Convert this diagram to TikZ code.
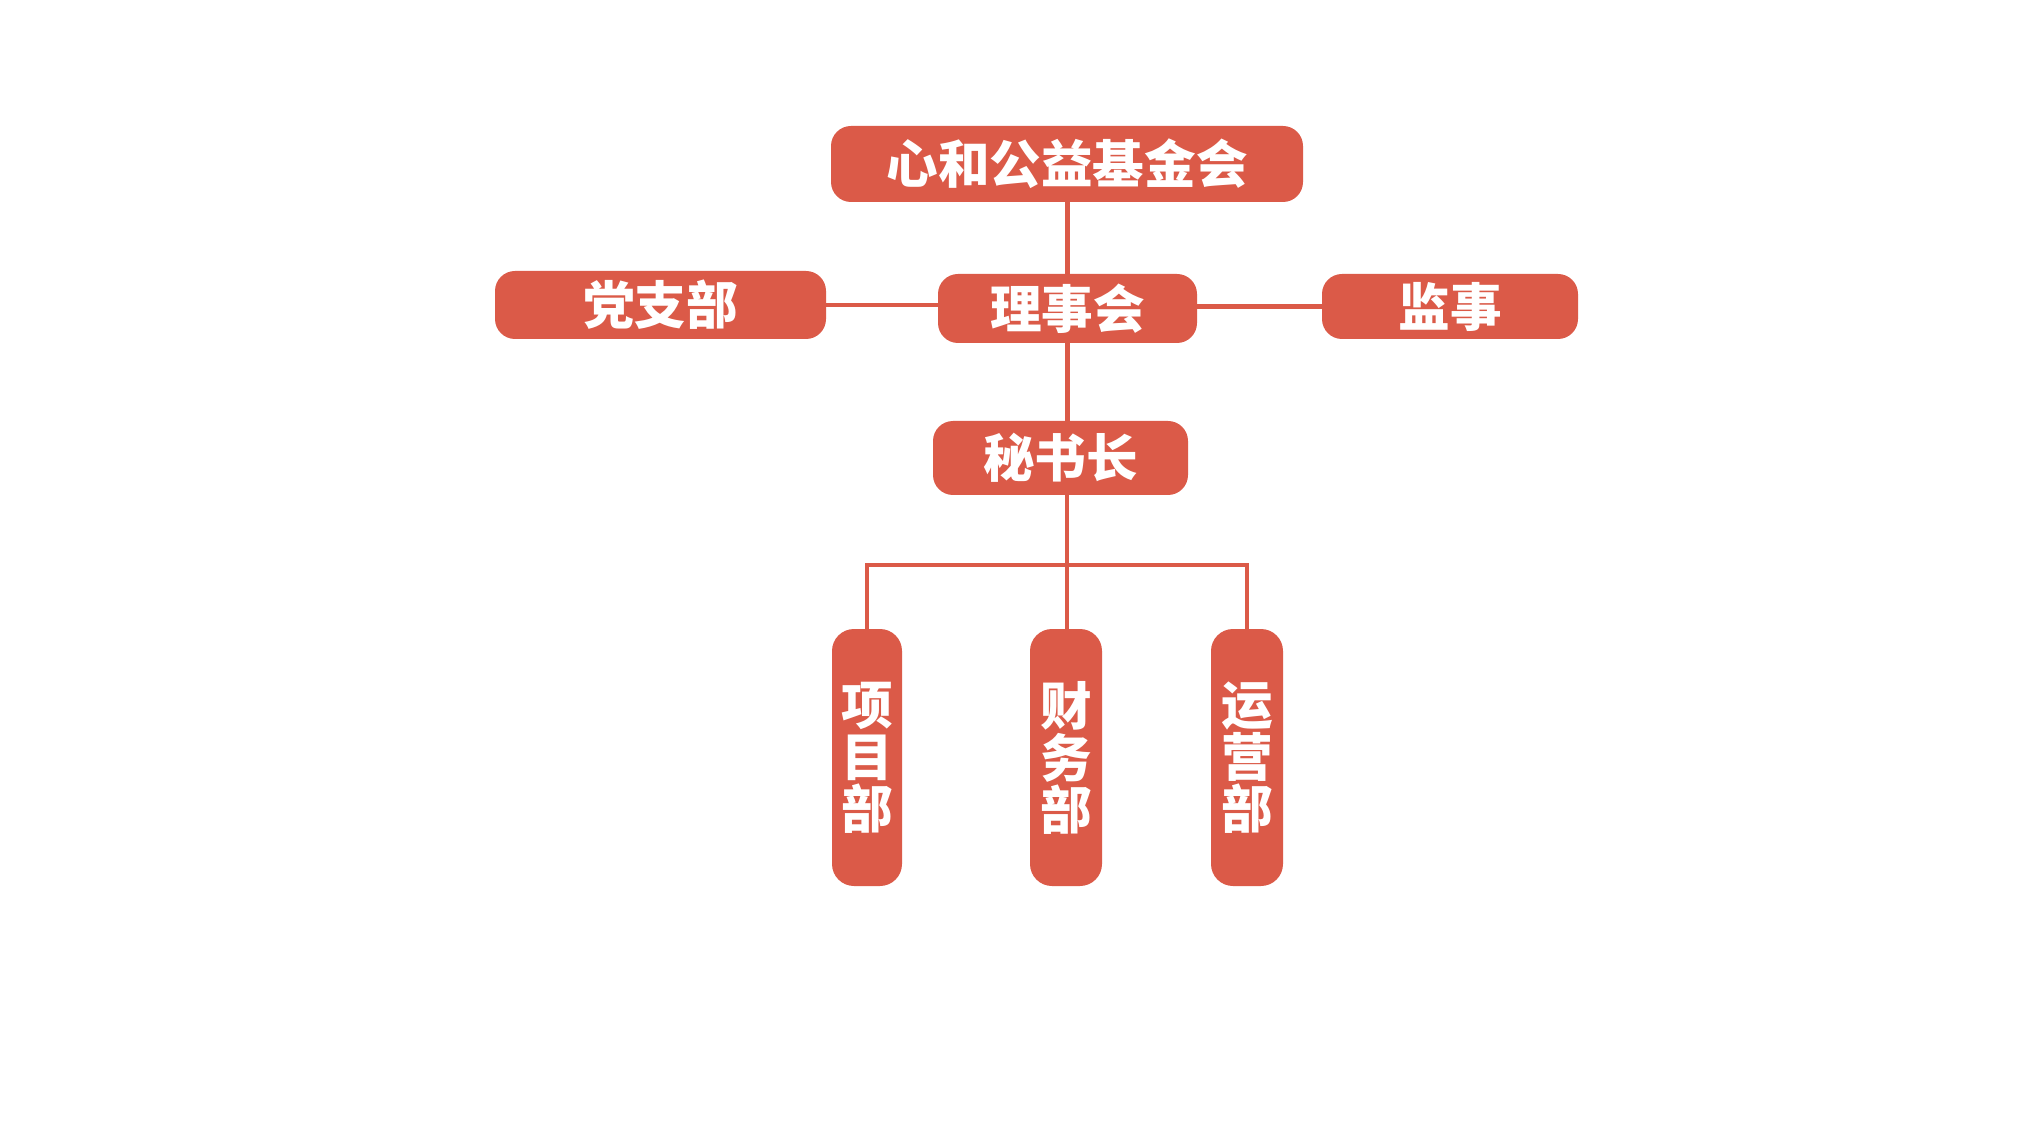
\documentclass[tikz,border=0pt]{standalone}
\usepackage{fontspec}
\newfontfamily\cjk{Noto Sans CJK SC}
\definecolor{boxred}{HTML}{DB5A48}
\begin{document}
\begin{tikzpicture}[x=0.5pt,y=-0.5pt,
  orgbox/.style={fill=boxred, draw=none, rounded corners=10pt, inner sep=0pt,
    text=white, font=\cjk\bfseries\fontsize{25.8}{26}\selectfont},
  vbox/.style={orgbox, align=center, rounded corners=11pt},
  link/.style={draw=boxred, line width=2.4pt}]
\useasboundingbox (0,0) rectangle (2028,1122);
\node[orgbox, minimum width=236pt, minimum height=38pt] (top) at (1067,164) {心和公益基金会};
\node[orgbox, minimum width=165.5pt, minimum height=34pt] (dzb) at (660.5,305) {党支部};
\node[orgbox, minimum width=129.5pt, minimum height=34.5pt] (lsh) at (1067.5,308.5) {理事会};
\node[orgbox, minimum width=128pt, minimum height=32.5pt] (js) at (1450,306.5) {监事};
\node[orgbox, minimum width=127.5pt, minimum height=37pt] (msz) at (1060.5,458) {秘书长};
\node[vbox, minimum width=35pt, minimum height=128.5pt] (xmb) at (867,757.5) {项\\目\\部};
\node[vbox, minimum width=36pt, minimum height=128.5pt] (cwb) at (1066,757.5) {财\\务\\部};
\node[vbox, minimum width=36pt, minimum height=128.5pt] (yyb) at (1247,757.5) {运\\营\\部};
\coordinate (bus) at (1067,565);
\draw[link] (top.south -| lsh.north) -- (lsh.north);
\draw[link] (dzb.east) -- (dzb.east -| lsh.west);
\draw[link] (lsh.east |- js.west) -- (js.west);
\draw[link] (lsh.south) -- (lsh.south |- msz.north);
\draw[link] (msz.south -| bus) -- (bus);
\draw[link] (xmb.north) |- (bus) -| (yyb.north);
\draw[link] (bus) -- (bus |- cwb.north);
\end{tikzpicture}
\end{document}
